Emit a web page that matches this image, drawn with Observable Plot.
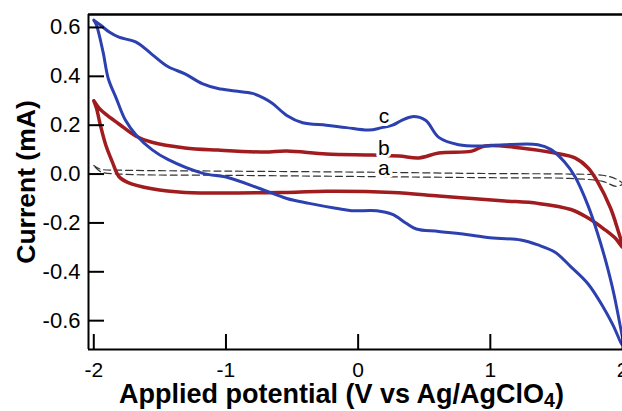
<!DOCTYPE html>
<html>
<head>
<meta charset="utf-8">
<script src="https://cdn.jsdelivr.net/npm/d3@7"></script>
<script src="https://cdn.jsdelivr.net/npm/@observablehq/plot@0.6"></script>
<style>
  html, body { margin: 0; padding: 0; background: #fff; overflow: hidden; }
  #chart { width: 622px; height: 411px; overflow: hidden; }
</style>
</head>
<body>
<div id="chart"></div>
<script>
// Curve c (blue): forward scan then reverse scan
const cX = [-2.00, -1.95, -1.88, -1.81, -1.68, -1.56, -1.44, -1.31, -1.18, -1.06, -0.93, -0.80, -0.71, -0.65, -0.54, -0.42, -0.24, -0.09, 0.08, 0.18, 0.26, 0.33, 0.41, 0.51, 0.61, 0.76, 0.96, 1.11, 1.36, 1.46, 1.56, 1.64, 1.74, 1.81, 1.89, 1.95, 2.00,
            1.93, 1.86, 1.74, 1.61, 1.49, 1.36, 1.23, 0.98, 0.86, 0.61, 0.44, 0.36, 0.26, 0.14, -0.05, -0.17, -0.37, -0.54, -0.74, -0.98, -1.18, -1.44, -1.56, -1.68, -1.76, -1.83, -1.89, -1.93, -1.98, -2.00];
const cY = [0.63, 0.61, 0.58, 0.56, 0.54, 0.49, 0.44, 0.41, 0.37, 0.35, 0.34, 0.33, 0.31, 0.29, 0.24, 0.21, 0.20, 0.19, 0.18, 0.19, 0.20, 0.22, 0.235, 0.22, 0.15, 0.12, 0.115, 0.12, 0.12, 0.10, 0.05, -0.01, -0.13, -0.24, -0.39, -0.53, -0.70,
            -0.62, -0.55, -0.45, -0.38, -0.32, -0.29, -0.27, -0.26, -0.25, -0.235, -0.225, -0.20, -0.165, -0.15, -0.15, -0.14, -0.12, -0.10, -0.06, -0.015, 0.004, 0.06, 0.10, 0.16, 0.22, 0.31, 0.39, 0.50, 0.61, 0.63];

// Curve b (red)
const bX = [-2.00, -1.96, -1.91, -1.81, -1.68, -1.56, -1.31, -1.06, -0.71, -0.54, -0.24, 0.11, 0.31, 0.46, 0.61, 0.86, 0.96, 1.23, 1.49, 1.64, 1.74, 1.81, 1.91, 1.96, 2.00,
            1.95, 1.86, 1.74, 1.61, 1.36, 1.11, 0.86, 0.61, 0.26, -0.24, -0.54, -1.31, -1.56, -1.74, -1.81, -1.86, -1.91, -1.95, -1.98, -2.00];
const bY = [0.30, 0.27, 0.245, 0.205, 0.155, 0.13, 0.107, 0.098, 0.09, 0.094, 0.082, 0.078, 0.074, 0.066, 0.086, 0.094, 0.115, 0.107, 0.086, 0.066, 0.025, -0.03, -0.14, -0.22, -0.30,
            -0.265, -0.225, -0.18, -0.145, -0.12, -0.11, -0.10, -0.09, -0.075, -0.07, -0.075, -0.075, -0.06, -0.035, -0.01, 0.05, 0.12, 0.20, 0.27, 0.30];

// Curve a (dashed)
const aX = [-2.00, -1.95, -1.80, -1.00, 0.00, 1.00, 1.60, 1.85, 1.95, 2.00, 1.95, 1.85, 1.60, 1.00, 0.00, -1.00, -1.80, -1.95, -2.00];
const aY = [0.035, 0.02, 0.016, 0.012, 0.008, 0.002, 0.0, -0.005, -0.02, -0.04, -0.05, -0.03, -0.018, -0.015, -0.01, -0.005, 0.0, 0.01, 0.035];

// Curve labels
const labelNames = ["c", "b", "a"];
const labelX = [0.195, 0.195, 0.195];
const labelY = [0.238, 0.107, 0.025];

// Axes
const xTicks = [-2, -1, 0, 1, 2];
const yTicks = [-0.6, -0.4, -0.2, 0.0, 0.2, 0.4, 0.6];
const xDomain = [-2.04, 2.0];
const yDomain = [-0.718, 0.653];
const xTitle = "Applied potential (V vs Ag/AgClO4)";
const yTitle = "Current (mA)";

const toRows = (X, Y) => X.map((x, i) => ({x, y: Y[i], i}));
const cData = toRows(cX, cY);
const bData = toRows(bX, bY);
const aData = toRows(aX, aY);
const labels = labelNames.map((t, i) => ({t, x: labelX[i], y: labelY[i]}));

const FONT = "'Liberation Sans', Arial, Helvetica, sans-serif";

const chart = Plot.plot({
  width: 622,
  height: 411,
  marginLeft: 88,
  marginRight: 0,
  marginTop: 14,
  marginBottom: 62,
  style: {fontFamily: FONT, background: "#fff", color: "#000"},
  x: {domain: xDomain},
  y: {domain: yDomain},
  marks: [
    Plot.line(aData, {x: "x", y: "y", stroke: "#333", strokeWidth: 1.2, strokeDasharray: "7,4", curve: "catmull-rom"}),
    Plot.line(bData, {x: "x", y: "y", stroke: "#a01c1e", strokeWidth: 3.5, curve: "catmull-rom"}),
    Plot.line(cData, {x: "x", y: "y", stroke: "#2c40b0", strokeWidth: 3, curve: "catmull-rom"}),
    Plot.text(labels, {x: "x", y: "y", text: "t", fontSize: 21, fill: "#000", stroke: "#fff", strokeWidth: 6, paintOrder: "stroke"}),
    Plot.ruleX([xDomain[0]], {stroke: "#000", strokeWidth: 2}),
    Plot.ruleY([yDomain[0]], {stroke: "#000", strokeWidth: 2}),
    Plot.ruleY([yDomain[1]], {stroke: "#000", strokeWidth: 2.5}),
    // inward tick marks
    Plot.axisY(yTicks, {tickSize: -16, strokeWidth: 2, tickFormat: () => "", label: null}),
    Plot.axisX(xTicks, {tickSize: -15, strokeWidth: 2, tickFormat: () => "", label: null}),
    // tick labels
    Plot.axisY(yTicks, {tickSize: 0, tickPadding: 8, fontSize: 22, tickFormat: d => d.toFixed(1), label: null}),
    Plot.axisX(xTicks, {tickSize: 0, tickPadding: 13, fontSize: 21, tickFormat: d => String(d), label: null}),
    // axis titles
    Plot.text([yTitle], {frameAnchor: "left", textAnchor: "middle", dx: -62, rotate: -90, fontSize: 26.5, fontWeight: "bold", fill: "#000"}),
    Plot.text([xTitle], {frameAnchor: "bottom", textAnchor: "middle", dx: -14, dy: 34, lineAnchor: "top", fontSize: 27, fontWeight: "bold", fill: "#000"})
  ]
});

document.getElementById("chart").appendChild(chart);

// Subscript for the "4" in AgClO4
d3.select(chart).selectAll("text").filter(function() { return this.textContent === xTitle; }).each(function() {
  const t = d3.select(this);
  t.text(null);
  t.append("tspan").text("Applied potential (V vs Ag/AgClO");
  t.append("tspan").attr("font-size", "0.72em").attr("dy", "0.22em").text("4");
  t.append("tspan").attr("dy", "-0.16em").text(")");
});
</script>
</body>
</html>
